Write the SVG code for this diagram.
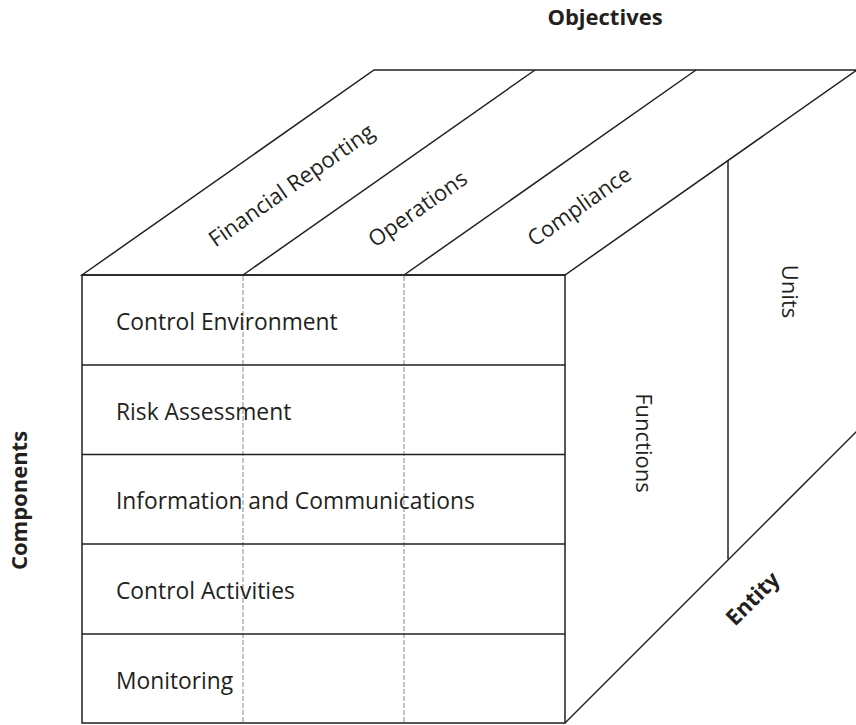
<svg xmlns="http://www.w3.org/2000/svg" width="856" height="725" viewBox="0 0 856 725">
<style>
.ln{fill:none;stroke:#231f20;stroke-width:1.5;stroke-linejoin:miter}
.dash{fill:none;stroke:#9d9d9d;stroke-width:1.2;stroke-dasharray:5 2}
.t{font-family:"Open Sans","Noto Sans","Liberation Sans",sans-serif;font-size:22px;fill:#231f20}
.r{font-size:22.8px}
.b{font-weight:bold}
</style>
<rect width="856" height="725" fill="#ffffff"/>
<g id="top-face">
<polygon class="ln" points="82,275 374,70 857,70 565,275"/>
<line class="ln" x1="535" y1="70" x2="243" y2="275"/>
<line class="ln" x1="696" y1="70" x2="404" y2="275"/>
<text class="t" text-anchor="middle" transform="translate(295.7,191.5) rotate(-35.07)">Financial Reporting</text>
<text class="t" text-anchor="middle" transform="translate(422,215) rotate(-35.07)">Operations</text>
<text class="t" text-anchor="middle" transform="translate(583.7,212.5) rotate(-35.07)">Compliance</text>
</g>
<g id="right-face">
<line class="ln" x1="565" y1="723" x2="857" y2="431"/>
<line class="ln" x1="728" y1="161" x2="728" y2="559"/>
<text class="t" text-anchor="middle" transform="translate(636,443) rotate(90)">Functions</text>
<text class="t" text-anchor="middle" transform="translate(782,291.5) rotate(90)">Units</text>
<text class="t b" text-anchor="middle" transform="translate(758,604) rotate(-45)">Entity</text>
</g>
<g id="connectors">
<line class="dash" x1="243" y1="276" x2="243" y2="722"/>
<line class="dash" x1="404" y1="276" x2="404" y2="722"/>
</g>
<g id="front-face">
<rect class="ln" x="82" y="275" width="483" height="448"/>
<line class="ln" x1="82" y1="365" x2="565" y2="365"/>
<line class="ln" x1="82" y1="454.5" x2="565" y2="454.5"/>
<line class="ln" x1="82" y1="544" x2="565" y2="544"/>
<line class="ln" x1="82" y1="634" x2="565" y2="634"/>
</g>
<g id="row-control-environment"><text class="t r" x="116" y="330">Control Environment</text></g>
<g id="row-risk-assessment"><text class="t r" x="116" y="419.5">Risk Assessment</text></g>
<g id="row-information"><text class="t r" x="116" y="509">Information and Communications</text></g>
<g id="row-control-activities"><text class="t r" x="116" y="598.5">Control Activities</text></g>
<g id="row-monitoring"><text class="t r" x="116" y="688.5">Monitoring</text></g>
<g id="axis-labels">
<text class="t b" text-anchor="middle" x="605" y="25">Objectives</text>
<text class="t b" text-anchor="middle" transform="translate(26.5,500.5) rotate(-90)">Components</text>
</g>
</svg>
